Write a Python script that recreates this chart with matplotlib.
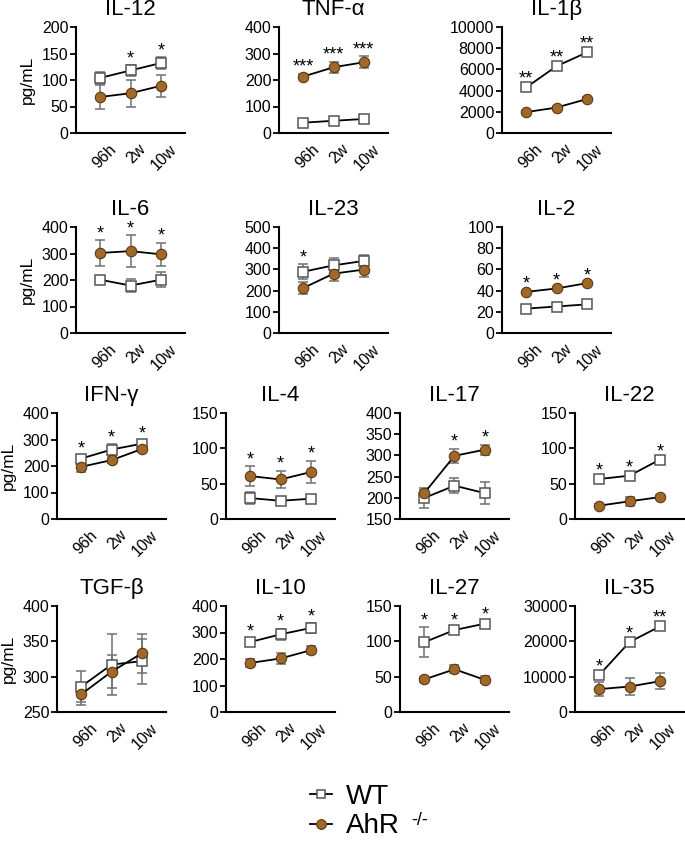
import matplotlib
matplotlib.use("Agg")
import matplotlib.pyplot as plt
from matplotlib.lines import Line2D
import matplotlib.transforms as mtrans
import numpy as np

plt.rcParams['font.family'] = ['Liberation Sans', 'DejaVu Sans']

timepoints = ["96h", "2w", "10w"]

panels = ["IL-12", "TNF-α", "IL-1β", "IL-6", "IL-23", "IL-2",
          "IFN-γ", "IL-4", "IL-17", "IL-22",
          "TGF-β", "IL-10", "IL-27", "IL-35"]

wt_mean = [[104, 118, 132], [39, 46, 53], [4300, 6300, 7600],
           [201, 179, 201], [289, 319, 340], [23, 25, 27],
           [228, 262, 284], [29.6, 25.8, 28.7], [199.5, 228.6, 211], [56.6, 61.3, 84],
           [286, 317, 322], [264, 293, 317], [98.7, 116, 125], [10450, 19800, 24200]]
wt_err = [[11, 10, 11], [5, 5, 5], [150, 150, 150],
          [8, 23, 28], [35, 33, 28], [1, 1, 1],
          [10, 20, 10], [8, 6, 4], [24, 18, 26], [2, 2, 2],
          [22, 43, 32], [12, 22, 18], [21, 3, 3], [500, 500, 500]]
ahr_mean = [[68, 75, 89], [213, 248, 267], [1970, 2400, 3200],
            [302, 309, 297], [212, 280, 299], [38.8, 42, 47],
            [197, 222, 264], [60.7, 56, 66.4], [211, 299, 313.5], [18.9, 25, 31],
            [275, 307, 333], [185, 202, 233], [46, 60.5, 45.5], [6480, 7200, 8700]]
ahr_err = [[22, 25, 21], [10, 20, 23], [150, 150, 150],
           [48, 60, 44], [30, 33, 35], [1, 1, 1],
           [18, 12, 10], [14, 12, 16], [8, 17, 12], [2, 6, 3],
           [15, 23, 28], [15, 20, 16], [4, 6, 5], [2000, 2500, 2200]]
stars = [["", "*", "*"], ["***", "***", "***"], ["**", "**", "**"],
         ["*", "*", "*"], ["*", "", ""], ["*", "*", "*"],
         ["*", "*", "*"], ["*", "*", "*"], ["", "*", "*"], ["*", "*", "*"],
         ["", "", ""], ["*", "*", "*"], ["*", "*", "*"], ["*", "*", "**"]]
yticks = [[0, 50, 100, 150, 200], [0, 100, 200, 300, 400], [0, 2000, 4000, 6000, 8000, 10000],
          [0, 100, 200, 300, 400], [0, 100, 200, 300, 400, 500], [0, 20, 40, 60, 80, 100],
          [0, 100, 200, 300, 400], [0, 50, 100, 150], [150, 200, 250, 300, 350, 400], [0, 50, 100, 150],
          [250, 300, 350, 400], [0, 100, 200, 300, 400], [0, 50, 100, 150], [0, 10000, 20000, 30000]]
ylabel_panels = ["IL-12", "IL-6", "IFN-γ", "TGF-β"]
legend_labels = ["WT", "AhR"]
legend_super = "-/-"

W, H = 685, 841
fig = plt.figure(figsize=(W / 100, H / 100), dpi=100)

# axes placement in pixels (left, top of axes) -- layout only
ax_w, ax_h = 109, 106
lefts3 = [76, 279, 502]
lefts4 = [57, 226, 400, 575]
tops = [27, 227, 413, 606]
positions = []
for r in range(2):
    for l in lefts3:
        positions.append((l, tops[r]))
for r in range(2, 4):
    for l in lefts4:
        positions.append((l, tops[r]))

x = np.arange(3)
brown = "#A0692A"
brown_edge = "#5A3A12"
err_color = "#707070"
offset = mtrans.ScaledTranslation(8 / 100, 0, fig.dpi_scale_trans)

for i, name in enumerate(panels):
    l, t = positions[i]
    ax = fig.add_axes([l / W, 1 - (t + ax_h) / H, ax_w / W, ax_h / H])
    yt = yticks[i]
    ymin, ymax = yt[0], yt[-1]
    rng = ymax - ymin

    ax.errorbar(x, wt_mean[i], yerr=wt_err[i], fmt='none', ecolor=err_color,
                elinewidth=1.1, capsize=3.5, capthick=1.1, zorder=2)
    ax.errorbar(x, ahr_mean[i], yerr=ahr_err[i], fmt='none', ecolor=err_color,
                elinewidth=1.1, capsize=3.5, capthick=1.1, zorder=2)
    ax.plot(x, wt_mean[i], color='black', lw=1.3, marker='s', ms=6.5,
            mfc='white', mec='#555555', mew=1.1, zorder=3)
    ax.plot(x, ahr_mean[i], color='black', lw=1.3, marker='o', ms=7.5,
            mfc=brown, mec=brown_edge, mew=0.8, zorder=4)

    for j in range(3):
        s = stars[i][j]
        if s:
            top = max(wt_mean[i][j] + wt_err[i][j], ahr_mean[i][j] + ahr_err[i][j])
            ax.text(x[j], top + 0.02 * rng, s, ha='center', va='baseline',
                    fontsize=13, zorder=5)

    ax.set_xlim(-0.8, 2.8)
    ax.set_ylim(ymin, ymax)
    ax.set_yticks(yt)
    ax.set_yticklabels([str(v) for v in yt])
    ax.set_xticks(x)
    ax.set_xticklabels(timepoints, rotation=45, ha='right', va='top',
                       rotation_mode='anchor')
    ax.tick_params(axis='y', length=4, width=1.3, labelsize=11.5, pad=1.5)
    ax.tick_params(axis='x', length=0, labelsize=11.5, pad=6)
    for lab in ax.get_xticklabels():
        lab.set_transform(lab.get_transform() + offset)
    ax.spines['top'].set_visible(False)
    ax.spines['right'].set_visible(False)
    ax.spines['left'].set_linewidth(1.5)
    ax.spines['bottom'].set_linewidth(1.5)
    ax.set_title(name, fontsize=16, pad=8.5)
    if name in ylabel_panels:
        ax.set_ylabel("pg/mL", fontsize=12.5, labelpad=5)
    ax.patch.set_visible(False)

handles = [Line2D([0], [0], color='black', lw=1.3, marker='s', ms=6,
                  mfc='white', mec='#555555', mew=1.1),
           Line2D([0], [0], color='black', lw=1.3, marker='o', ms=7,
                  mfc=brown, mec=brown_edge, mew=0.8)]
leg = fig.legend(handles, legend_labels, loc='upper left',
                 bbox_to_anchor=(310 / W, 1 - 784 / H),
                 frameon=False, fontsize=20, handlelength=0.8, handletextpad=0.5,
                 labelspacing=0.12, borderpad=0, borderaxespad=0)

fig.canvas.draw()
bb = leg.get_texts()[1].get_window_extent(fig.canvas.get_renderer())
fig.text((bb.x1 + 11) / W, (bb.y1 + 1) / H, legend_super, fontsize=13,
         ha='left', va='top')

fig.savefig("out.png", dpi=100)
